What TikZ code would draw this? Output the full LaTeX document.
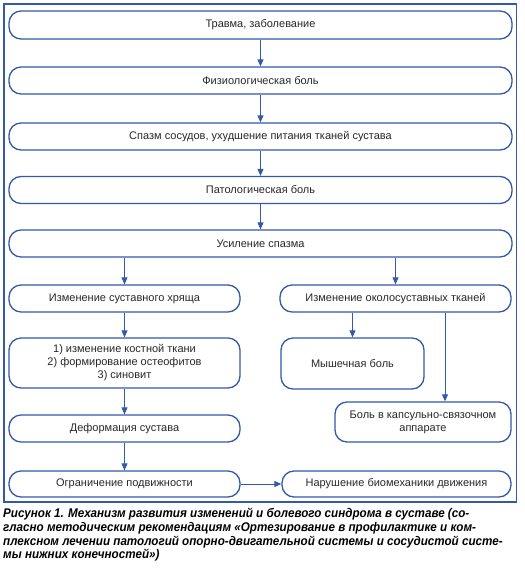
\documentclass[tikz,border=0pt]{standalone}
\usepackage{fontspec}
\setmainfont{Liberation Sans}
\newfontface\capfont[FakeStretch=0.925]{Liberation Sans Bold Italic}
\usetikzlibrary{arrows.meta}
\definecolor{bl}{RGB}{52,88,170}
\definecolor{tx}{RGB}{40,40,40}
\tikzset{
  box/.style={draw=bl, line width=1.3pt, rounded corners=12pt, inner sep=0pt, align=center,
    text=tx, font=\fontsize{11}{13}\selectfont},
  arr/.style={draw=bl, line width=0.9pt, -{Triangle[length=7pt,width=6pt]}},
}
\begin{document}
\begin{tikzpicture}[x=1pt,y=-1pt]
\useasboundingbox (0,0) rectangle (525,568);
\draw[bl, line width=1.1pt] (4,4) rectangle (516.5,502);
\node[box, minimum width=503, minimum height=28] (b1) at (260.5,25) {Травма, заболевание};
\node[box, minimum width=503, minimum height=27] (b2) at (260.5,80.5) {Физиологическая боль};
\node[box, minimum width=503, minimum height=27] (b3) at (260.5,136.5) {Спазм сосудов, ухудшение питания тканей сустава};
\node[box, minimum width=503, minimum height=27] (b4) at (260.5,190) {Патологическая боль};
\node[box, minimum width=503, minimum height=27] (b5) at (260.5,243.5) {Усиление спазма};
\node[box, minimum width=231, minimum height=27] (la) at (124.5,298.5) {Изменение суставного хряща};
\node[box, minimum width=231, minimum height=27] (ra) at (395.5,298.5) {Изменение околосуставных тканей};
\node[box, minimum width=231, minimum height=50] (lb) at (124.5,363) {1) изменение костной ткани\\2) формирование остеофитов\\3) синовит};
\node[box, minimum width=143, minimum height=51] (mb) at (352.5,363.5) {Мышечная боль};
\node[box, minimum width=176, minimum height=40] (kb) at (423,422) {Боль в капсульно-связочном\\аппарате};
\node[box, minimum width=231, minimum height=27] (dm) at (124.5,428.5) {Деформация сустава};
\node[box, minimum width=231, minimum height=26] (og) at (124.5,484) {Ограничение подвижности};
\node[box, minimum width=229, minimum height=26] (nb) at (396.5,484) {Нарушение биомеханики движения};
\coordinate (kx) at (445,0);
\draw[arr] (b1) -- (b2);
\draw[arr] (b2) -- (b3);
\draw[arr] (b3) -- (b4);
\draw[arr] (b4) -- (b5);
\draw[arr] (b5.south -| la.north) -- (la.north);
\draw[arr] (b5.south -| ra.north) -- (ra.north);
\draw[arr] (la) -- (lb);
\draw[arr] (lb) -- (dm);
\draw[arr] (dm) -- (og);
\draw[arr] (ra.south -| mb.north) -- (mb.north);
\draw[arr] (ra.south -| kx) -- (kb.north -| kx);
\draw[arr] (og) -- (nb);
\node[anchor=north west, inner sep=0pt, align=left, text=black,
  font=\capfont\fontsize{12.6}{13.7}\selectfont] (cap) at (3,508)
{Рисунок 1. Механизм развития изменений и болевого синдрома в суставе (со-\\
гласно методическим рекомендациям «Ортезирование в профилактике и ком-\\
плексном лечении патологий опорно-двигательной системы и сосудистой систе-\\
мы нижних конечностей»)};
\end{tikzpicture}
\end{document}
